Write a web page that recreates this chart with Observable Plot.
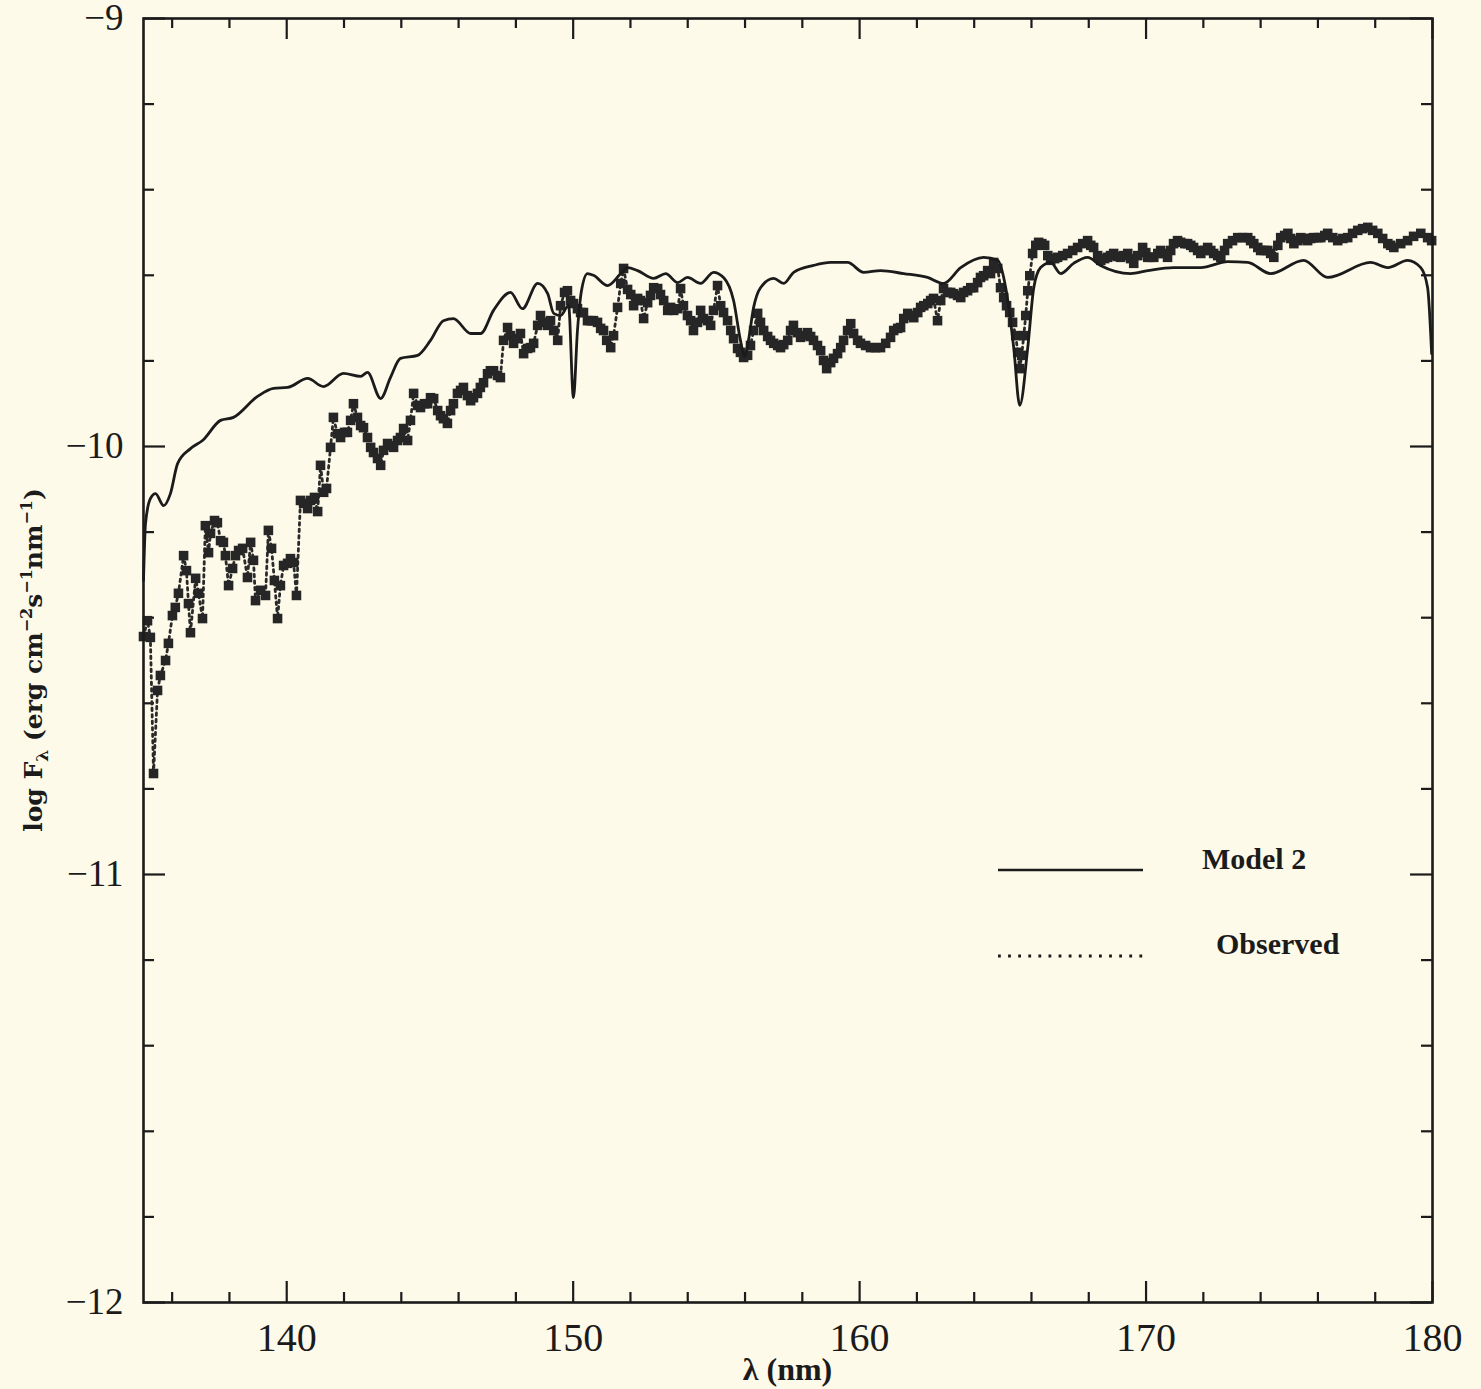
<!DOCTYPE html>
<html><head><meta charset="utf-8">
<script src="https://cdn.jsdelivr.net/npm/d3@7"></script>
<script src="https://cdn.jsdelivr.net/npm/@observablehq/plot@0.6"></script>
<style>
html,body{margin:0;padding:0;background:#fdfaea;}
#wrap{position:relative;width:1481px;height:1389px;}
svg{display:block;}
</style></head><body><div id="wrap"></div>
<script>
// ---- data (wavelength nm, log F_lambda) ----
const modelSpectrum = [[135.00,-10.313],[135.07,-10.180],[135.24,-10.122],[135.42,-10.110],[135.70,-10.138],[135.94,-10.110],[136.19,-10.040],[136.64,-10.005],[137.06,-9.986],[137.69,-9.939],[138.14,-9.932],[138.98,-9.883],[139.54,-9.864],[140.03,-9.862],[140.73,-9.841],[141.28,-9.860],[141.98,-9.829],[142.58,-9.836],[142.82,-9.827],[143.28,-9.888],[143.62,-9.839],[143.97,-9.794],[144.57,-9.787],[145.02,-9.752],[145.47,-9.706],[145.82,-9.701],[146.42,-9.736],[146.77,-9.736],[147.22,-9.682],[147.81,-9.640],[148.23,-9.678],[148.76,-9.619],[149.11,-9.643],[149.32,-9.689],[149.56,-9.694],[149.84,-9.671],[150.01,-9.886],[150.15,-9.729],[150.29,-9.636],[150.50,-9.596],[150.71,-9.600],[151.20,-9.624],[151.66,-9.596],[151.90,-9.582],[152.25,-9.589],[152.81,-9.607],[153.23,-9.596],[153.65,-9.617],[153.99,-9.605],[154.45,-9.619],[154.90,-9.593],[155.25,-9.605],[155.60,-9.659],[155.84,-9.752],[155.98,-9.790],[156.12,-9.752],[156.30,-9.675],[156.54,-9.629],[157.00,-9.607],[157.35,-9.619],[157.70,-9.593],[158.39,-9.577],[158.99,-9.570],[159.58,-9.570],[160.14,-9.593],[160.73,-9.589],[161.54,-9.596],[162.37,-9.605],[162.93,-9.619],[163.53,-9.582],[164.33,-9.558],[164.82,-9.565],[165.10,-9.629],[165.38,-9.769],[165.59,-9.904],[165.87,-9.769],[166.08,-9.629],[166.32,-9.582],[166.67,-9.570],[167.02,-9.596],[167.47,-9.572],[167.96,-9.558],[168.41,-9.577],[169.46,-9.596],[170.06,-9.589],[170.96,-9.582],[171.91,-9.582],[172.85,-9.568],[173.55,-9.570],[174.35,-9.596],[175.50,-9.565],[176.34,-9.605],[177.84,-9.570],[178.44,-9.582],[179.13,-9.565],[179.59,-9.582],[179.83,-9.629],[179.97,-9.783]];

const observedSpectrum = [[135.00,-10.444],[135.14,-10.407],[135.24,-10.446],[135.35,-10.764],[135.49,-10.570],[135.59,-10.535],[135.77,-10.500],[135.87,-10.460],[136.01,-10.395],[136.11,-10.376],[136.22,-10.343],[136.40,-10.255],[136.50,-10.290],[136.57,-10.367],[136.64,-10.435],[136.82,-10.308],[136.92,-10.343],[137.06,-10.402],[137.16,-10.185],[137.27,-10.248],[137.34,-10.203],[137.48,-10.173],[137.58,-10.178],[137.69,-10.220],[137.79,-10.224],[137.86,-10.255],[137.97,-10.325],[138.11,-10.285],[138.21,-10.255],[138.32,-10.243],[138.46,-10.238],[138.63,-10.306],[138.74,-10.224],[138.84,-10.266],[138.91,-10.360],[139.09,-10.336],[139.26,-10.348],[139.36,-10.196],[139.47,-10.238],[139.57,-10.313],[139.68,-10.402],[139.78,-10.325],[139.89,-10.278],[140.03,-10.273],[140.13,-10.262],[140.24,-10.271],[140.34,-10.348],[140.48,-10.126],[140.59,-10.133],[140.73,-10.145],[140.83,-10.126],[140.97,-10.119],[141.08,-10.152],[141.18,-10.044],[141.29,-10.107],[141.39,-10.098],[141.53,-10.002],[141.63,-9.932],[141.77,-9.970],[141.88,-9.979],[142.02,-9.967],[142.12,-9.967],[142.23,-9.939],[142.33,-9.900],[142.47,-9.932],[142.58,-9.951],[142.68,-9.956],[142.82,-9.979],[142.93,-10.002],[143.03,-10.014],[143.17,-10.028],[143.28,-10.044],[143.38,-10.009],[143.52,-9.993],[143.62,-9.998],[143.73,-10.002],[143.87,-9.986],[143.97,-9.979],[144.08,-9.958],[144.22,-9.986],[144.32,-9.939],[144.43,-9.876],[144.57,-9.904],[144.67,-9.909],[144.81,-9.900],[144.92,-9.900],[145.02,-9.886],[145.13,-9.888],[145.27,-9.916],[145.37,-9.928],[145.47,-9.935],[145.61,-9.946],[145.72,-9.916],[145.82,-9.900],[145.96,-9.876],[146.07,-9.869],[146.17,-9.862],[146.31,-9.881],[146.42,-9.893],[146.52,-9.886],[146.66,-9.876],[146.76,-9.862],[146.87,-9.851],[147.01,-9.830],[147.11,-9.823],[147.22,-9.823],[147.36,-9.834],[147.46,-9.839],[147.57,-9.752],[147.71,-9.722],[147.81,-9.741],[147.92,-9.759],[148.06,-9.748],[148.16,-9.736],[148.27,-9.783],[148.41,-9.771],[148.51,-9.769],[148.62,-9.759],[148.76,-9.717],[148.86,-9.694],[149.00,-9.710],[149.11,-9.717],[149.21,-9.706],[149.32,-9.729],[149.46,-9.752],[149.56,-9.671],[149.70,-9.640],[149.80,-9.636],[149.91,-9.659],[150.01,-9.666],[150.15,-9.678],[150.26,-9.687],[150.36,-9.687],[150.50,-9.706],[150.61,-9.706],[150.71,-9.706],[150.85,-9.710],[150.96,-9.724],[151.06,-9.729],[151.17,-9.752],[151.31,-9.769],[151.41,-9.741],[151.55,-9.675],[151.66,-9.619],[151.76,-9.584],[151.90,-9.633],[152.01,-9.645],[152.11,-9.671],[152.25,-9.654],[152.35,-9.659],[152.46,-9.701],[152.60,-9.664],[152.70,-9.647],[152.81,-9.629],[152.95,-9.631],[153.05,-9.645],[153.16,-9.659],[153.30,-9.682],[153.40,-9.675],[153.51,-9.682],[153.65,-9.678],[153.75,-9.631],[153.85,-9.671],[153.99,-9.694],[154.10,-9.706],[154.20,-9.729],[154.34,-9.710],[154.45,-9.682],[154.55,-9.701],[154.69,-9.706],[154.80,-9.717],[154.90,-9.682],[155.04,-9.624],[155.15,-9.671],[155.25,-9.687],[155.39,-9.706],[155.50,-9.729],[155.60,-9.748],[155.74,-9.771],[155.84,-9.780],[155.95,-9.792],[156.09,-9.787],[156.19,-9.764],[156.30,-9.729],[156.44,-9.689],[156.54,-9.710],[156.65,-9.729],[156.79,-9.743],[156.89,-9.752],[157.00,-9.759],[157.14,-9.764],[157.24,-9.769],[157.35,-9.762],[157.49,-9.752],[157.59,-9.729],[157.69,-9.717],[157.83,-9.734],[157.94,-9.745],[158.04,-9.741],[158.18,-9.734],[158.29,-9.743],[158.39,-9.752],[158.53,-9.764],[158.64,-9.776],[158.74,-9.799],[158.85,-9.818],[158.99,-9.804],[159.09,-9.794],[159.23,-9.783],[159.34,-9.769],[159.44,-9.752],[159.58,-9.729],[159.69,-9.713],[159.79,-9.736],[159.93,-9.752],[160.03,-9.759],[160.21,-9.764],[160.38,-9.769],[160.56,-9.769],[160.73,-9.769],[160.91,-9.759],[161.08,-9.745],[161.19,-9.729],[161.33,-9.724],[161.43,-9.722],[161.54,-9.701],[161.68,-9.689],[161.78,-9.694],[161.89,-9.699],[162.03,-9.687],[162.13,-9.675],[162.24,-9.671],[162.38,-9.666],[162.48,-9.659],[162.58,-9.654],[162.72,-9.706],[162.83,-9.659],[162.93,-9.631],[163.07,-9.640],[163.18,-9.640],[163.28,-9.643],[163.42,-9.647],[163.53,-9.652],[163.63,-9.640],[163.77,-9.636],[163.88,-9.629],[163.98,-9.629],[164.12,-9.617],[164.22,-9.605],[164.33,-9.601],[164.47,-9.589],[164.57,-9.596],[164.68,-9.570],[164.82,-9.584],[164.92,-9.629],[165.03,-9.652],[165.13,-9.671],[165.24,-9.687],[165.34,-9.710],[165.45,-9.741],[165.52,-9.780],[165.59,-9.818],[165.66,-9.787],[165.73,-9.741],[165.80,-9.694],[165.87,-9.636],[165.94,-9.601],[166.04,-9.549],[166.15,-9.530],[166.25,-9.523],[166.36,-9.526],[166.46,-9.530],[166.57,-9.554],[166.67,-9.565],[166.81,-9.561],[166.91,-9.558],[167.09,-9.554],[167.26,-9.549],[167.44,-9.542],[167.61,-9.535],[167.79,-9.526],[167.96,-9.519],[168.07,-9.530],[168.17,-9.535],[168.31,-9.554],[168.42,-9.565],[168.55,-9.561],[168.66,-9.558],[168.76,-9.554],[168.87,-9.549],[169.01,-9.556],[169.11,-9.558],[169.22,-9.554],[169.36,-9.549],[169.46,-9.561],[169.57,-9.572],[169.71,-9.554],[169.88,-9.535],[169.99,-9.547],[170.06,-9.558],[170.16,-9.558],[170.27,-9.558],[170.41,-9.549],[170.51,-9.542],[170.62,-9.549],[170.75,-9.558],[170.86,-9.542],[170.96,-9.526],[171.10,-9.519],[171.21,-9.523],[171.35,-9.526],[171.45,-9.526],[171.56,-9.530],[171.66,-9.535],[171.80,-9.542],[171.91,-9.549],[172.05,-9.542],[172.15,-9.535],[172.26,-9.542],[172.36,-9.549],[172.50,-9.554],[172.61,-9.558],[172.74,-9.542],[172.85,-9.526],[173.02,-9.519],[173.20,-9.512],[173.37,-9.512],[173.55,-9.512],[173.65,-9.519],[173.76,-9.526],[173.90,-9.535],[174.00,-9.542],[174.14,-9.542],[174.25,-9.542],[174.35,-9.549],[174.46,-9.558],[174.60,-9.530],[174.70,-9.512],[174.84,-9.507],[174.95,-9.502],[175.05,-9.514],[175.16,-9.526],[175.30,-9.519],[175.40,-9.512],[175.54,-9.514],[175.64,-9.519],[175.75,-9.514],[175.85,-9.512],[175.99,-9.512],[176.10,-9.512],[176.24,-9.507],[176.34,-9.502],[176.52,-9.512],[176.69,-9.519],[176.87,-9.514],[177.04,-9.512],[177.21,-9.502],[177.39,-9.495],[177.56,-9.491],[177.74,-9.488],[177.91,-9.495],[178.09,-9.502],[178.26,-9.514],[178.44,-9.526],[178.54,-9.530],[178.65,-9.535],[178.89,-9.526],[179.13,-9.519],[179.34,-9.509],[179.59,-9.502],[179.83,-9.512],[179.97,-9.519]];

const xMajorTicks = [140, 150, 160, 170, 180];
const xMinorTicks = [136, 138, 142, 144, 146, 148, 152, 154, 156, 158, 162, 164, 166, 168, 172, 174, 176, 178];
const yMajorTicks = [-9, -10, -11, -12];
const yMinorTicks = [-9.2, -9.4, -9.6, -9.8, -10.2, -10.4, -10.6, -10.8, -11.2, -11.4, -11.6, -11.8];
const legendLabels = ["Model 2", "Observed"];
const xTitle = "λ (nm)";

// ---- layout ----
const W = 1481, H = 1389, mL = 143, mR = 49, mT = 18, mB = 87;
const innerW = W - mL - mR, innerH = H - mT - mB;
const ink = "#1b1b1b";
const serif = "'Liberation Serif','DejaVu Serif',serif";
const wideSerif = "'DejaVu Serif','Liberation Serif',serif";
const fmt = d => d < 0 ? "\u2212" + Math.abs(d) : String(d);

const model = modelSpectrum.map(([l, f]) => ({lambda: l, logF: f}));
const observed = observedSpectrum.map(([l, f]) => ({lambda: l, logF: f}));

const chart = Plot.plot({
  width: W, height: H,
  marginLeft: mL, marginRight: mR, marginTop: mT, marginBottom: mB,
  style: {background: "transparent", fontFamily: serif, color: ink, overflow: "visible"},
  x: {domain: [135, 180]},
  y: {domain: [-12, -9]},
  marks: [
    // inward ticks
    Plot.ruleX(xMajorTicks, {insetTop: innerH - 21, stroke: ink, strokeWidth: 2.2}),
    Plot.ruleX(xMajorTicks, {insetBottom: innerH - 21, stroke: ink, strokeWidth: 2.2}),
    Plot.ruleX(xMinorTicks, {insetTop: innerH - 10, stroke: ink, strokeWidth: 2.2}),
    Plot.ruleX(xMinorTicks, {insetBottom: innerH - 10, stroke: ink, strokeWidth: 2.2}),
    Plot.ruleY(yMajorTicks, {insetRight: innerW - 22, stroke: ink, strokeWidth: 2.2}),
    Plot.ruleY(yMajorTicks, {insetLeft: innerW - 22, stroke: ink, strokeWidth: 2.2}),
    Plot.ruleY(yMinorTicks, {insetRight: innerW - 11, stroke: ink, strokeWidth: 2.2}),
    Plot.ruleY(yMinorTicks, {insetLeft: innerW - 11, stroke: ink, strokeWidth: 2.2}),
    // tick labels
    Plot.axisX(xMajorTicks, {anchor: "bottom", tickSize: 0, tickPadding: 20, fontSize: 40, label: null, tickFormat: fmt, fill: ink}),
    Plot.axisY(yMajorTicks, {anchor: "left", tickSize: 0, tickPadding: 20, fontSize: 37, label: null, tickFormat: fmt, fill: ink}),
    // observed: dotted line with square markers
    Plot.line(observed, {x: "lambda", y: "logF", stroke: "#2a2a2a", strokeWidth: 2.8, strokeDasharray: "2.5,4"}),
    Plot.dot(observed, {x: "lambda", y: "logF", symbol: "square", r: 5.4, fill: "#262626", stroke: "none"}),
    // model
    Plot.line(model, {x: "lambda", y: "logF", stroke: ink, strokeWidth: 2.8, curve: "monotone-x"}),
    Plot.frame({stroke: ink, strokeWidth: 2.6})
  ]
});

document.getElementById("wrap").appendChild(chart);

// ---- axis titles and legend ----
const svg = d3.select(chart);
const yt = svg.append("text")
  .attr("transform", "translate(42,660) rotate(-90)")
  .attr("text-anchor", "middle")
  .attr("font-family", wideSerif).attr("font-weight", "bold").attr("font-size", 25)
  .attr("fill", ink);
yt.append("tspan").text("log F");
yt.append("tspan").attr("dy", 6).attr("font-size", 17).text("λ");
yt.append("tspan").attr("dy", -6).text(" (erg cm");
yt.append("tspan").attr("dy", -10).attr("font-size", 16).text("\u22122");
yt.append("tspan").attr("dy", 10).text("s");
yt.append("tspan").attr("dy", -10).attr("font-size", 16).text("\u22121");
yt.append("tspan").attr("dy", 10).text("nm");
yt.append("tspan").attr("dy", -10).attr("font-size", 16).text("\u22121");
yt.append("tspan").attr("dy", 10).text(")");

svg.append("text")
  .attr("x", mL + innerW / 2).attr("y", 1380)
  .attr("text-anchor", "middle")
  .attr("font-family", serif).attr("font-weight", "bold").attr("font-size", 32)
  .attr("fill", ink).text(xTitle);

const leg = svg.append("g").attr("font-family", serif).attr("font-weight", "bold").attr("font-size", 30)
  .attr("fill", ink).attr("text-anchor", "start");
leg.append("line").attr("x1", 998).attr("x2", 1143).attr("y1", 870).attr("y2", 870)
  .attr("stroke", ink).attr("stroke-width", 2.6);
leg.append("text").attr("x", 1202).attr("y", 869).attr("text-anchor", "start").text(legendLabels[0]);
leg.append("line").attr("x1", 998).attr("x2", 1143).attr("y1", 956).attr("y2", 956)
  .attr("stroke", ink).attr("stroke-width", 2.8).attr("stroke-dasharray", "2.8,7.3");
leg.append("text").attr("x", 1216).attr("y", 954).attr("text-anchor", "start").text(legendLabels[1]);
</script></body></html>
